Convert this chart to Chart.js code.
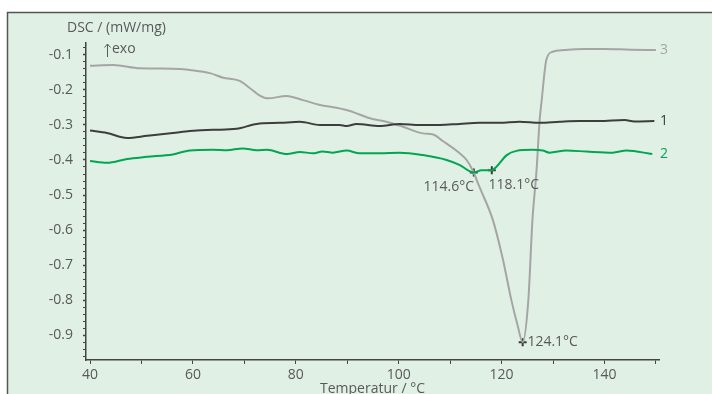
<!DOCTYPE html>
<html>
<head>
<meta charset="utf-8">
<script src="https://cdn.jsdelivr.net/npm/chart.js@4.4.1/dist/chart.umd.min.js"></script>
<style>
  html, body { margin: 0; padding: 0; background: #fff; }
  #wrap { width: 712px; height: 394px; }
</style>
</head>
<body>
<div id="wrap"><canvas id="dsc" width="712" height="394"></canvas></div>
<script>
// curve 1 (dark)
var temp1 = [40, 43.3, 47.2, 51.1, 56.1, 59.4, 63.9, 68.5, 72.4, 76.9, 80.8, 84.7, 88.5, 89.9, 91.8, 96.3, 100.2, 104.1, 108, 111.8, 115.7, 119.6, 123.5, 127.4, 131.3, 135.1, 139, 143.9, 145.8, 149.7];
var dsc1 = [-0.316, -0.323, -0.337, -0.331, -0.323, -0.317, -0.314, -0.311, -0.297, -0.294, -0.291, -0.3, -0.3, -0.303, -0.297, -0.303, -0.297, -0.3, -0.3, -0.297, -0.294, -0.294, -0.291, -0.294, -0.291, -0.289, -0.289, -0.286, -0.29, -0.289];
// curve 2 (green)
var temp2 = [40, 43.3, 47.2, 51.1, 56.1, 59.4, 63.9, 66.6, 69.7, 72.4, 74.4, 78.3, 80.8, 83.3, 85.2, 87.2, 89.9, 92.4, 96.3, 100.2, 104.7, 109.3, 111.8, 114.6, 116.1, 118.1, 119, 121, 122.9, 126, 128, 129.3, 132.6, 136.5, 141.6, 144.3, 149.3];
var dsc2 = [-0.403, -0.408, -0.397, -0.391, -0.384, -0.373, -0.371, -0.372, -0.367, -0.372, -0.371, -0.383, -0.377, -0.381, -0.376, -0.379, -0.373, -0.381, -0.381, -0.379, -0.386, -0.4, -0.414, -0.436, -0.429, -0.429, -0.419, -0.386, -0.374, -0.371, -0.373, -0.379, -0.373, -0.376, -0.379, -0.373, -0.383];
// curve 3 (grey)
var temp3 = [40, 44.5, 49.7, 57.5, 59.4, 63.3, 65.9, 69.1, 71.1, 73, 74.6, 78.2, 81.4, 84.7, 87.9, 90.5, 94.4, 97.6, 100.8, 104.7, 106.7, 108.5, 111.8, 113.2, 114.4, 115.7, 118.3, 120.2, 121.9, 123.1, 124.1, 125.2, 126, 126.8, 127.4, 127.8, 128.7, 129.9, 132.2, 136, 140, 145, 150];
var dsc3 = [-0.131, -0.129, -0.138, -0.14, -0.143, -0.152, -0.165, -0.174, -0.195, -0.216, -0.224, -0.217, -0.229, -0.243, -0.251, -0.26, -0.281, -0.291, -0.305, -0.324, -0.327, -0.345, -0.38, -0.4, -0.43, -0.477, -0.571, -0.68, -0.8, -0.871, -0.92, -0.8, -0.571, -0.429, -0.286, -0.229, -0.114, -0.091, -0.086, -0.083, -0.083, -0.085, -0.086];
// marked peaks
var peakTemps = [114.6, 118.1, 124.1];
var peakValues = [-0.436, -0.429, -0.92];
var peakLabels = ['114.6°C', '118.1°C', '124.1°C'];
var curveNames = ['1', '2', '3'];

var textColor = '#595959';
var font = '"Open Sans", "Noto Sans", sans-serif';

function toPoints(xs, ys) {
    return xs.map(function (x, i) { return { x: x, y: ys[i] }; });
}

var panelPlugin = {
    id: 'panel',
    beforeDraw: function (chart) {
        var ctx = chart.ctx;
        ctx.save();
        ctx.fillStyle = '#fff';
        ctx.fillRect(0, 0, chart.width, chart.height);
        ctx.fillStyle = '#e1f0e5';
        ctx.fillRect(7, 12, chart.width - 7, chart.height - 12);
        ctx.strokeStyle = '#555';
        ctx.lineWidth = 1.5;
        ctx.beginPath();
        ctx.moveTo(7.5, chart.height);
        ctx.lineTo(7.5, 12.5);
        ctx.lineTo(chart.width, 12.5);
        ctx.stroke();
        ctx.restore();
    }
};

var textPlugin = {
    id: 'texts',
    afterDatasetsDraw: function (chart) {
        var ctx = chart.ctx;
        var xs = chart.scales.x, ys = chart.scales.y;
        ctx.save();
        ctx.font = '14px ' + font;
        ctx.textBaseline = 'middle';
        ctx.fillStyle = textColor;
        ctx.textAlign = 'left';
        ctx.fillText('DSC / (mW/mg)', 67, 28);
        ctx.fillText('exo', 112, 49);
        // the little exo arrow
        ctx.strokeStyle = textColor;
        ctx.lineWidth = 1;
        ctx.beginPath();
        ctx.moveTo(107.5, 57);
        ctx.lineTo(107.5, 44);
        ctx.moveTo(104.5, 47.5);
        ctx.lineTo(107.5, 44);
        ctx.lineTo(110.5, 47.5);
        ctx.stroke();
        ctx.textAlign = 'center';
        ctx.fillText('Temperatur / °C', (chart.chartArea.left + chart.chartArea.right) / 2, 389);

        // peak labels
        var offs = [[-25, 14], [22, 15], [30, 0]];
        peakTemps.forEach(function (t, i) {
            var px = xs.getPixelForValue(t), py = ys.getPixelForValue(peakValues[i]);
            ctx.fillText(peakLabels[i], px + offs[i][0], py + offs[i][1]);
        });

        // curve names at the line ends
        ctx.textAlign = 'left';
        [0, 1, 2].forEach(function (i) {
            var meta = chart.getDatasetMeta(i);
            var last = meta.data[meta.data.length - 1];
            ctx.fillStyle = chart.data.datasets[i].borderColor;
            ctx.fillText(curveNames[i], 660, last.y);
        });
        ctx.restore();
    }
};

new Chart(document.getElementById('dsc'), {
    type: 'line',
    data: {
        datasets: [{
            label: '1',
            data: toPoints(temp1, dsc1),
            borderColor: '#3d3d3d',
            borderWidth: 2,
            pointRadius: 0,
            cubicInterpolationMode: 'monotone'
        }, {
            label: '2',
            data: toPoints(temp2, dsc2),
            borderColor: '#00a651',
            borderWidth: 2,
            pointRadius: 0,
            cubicInterpolationMode: 'monotone'
        }, {
            label: '3',
            data: toPoints(temp3, dsc3),
            borderColor: '#a5a5a5',
            borderWidth: 2,
            pointRadius: 0,
            cubicInterpolationMode: 'monotone'
        }, {
            type: 'scatter',
            label: 'peaks',
            data: toPoints(peakTemps, peakValues),
            pointStyle: 'cross',
            pointRadius: 4,
            borderWidth: 2,
            borderColor: '#3a3a3a',
            backgroundColor: '#3a3a3a'
        }]
    },
    options: {
        responsive: false,
        animation: false,
        events: [],
        layout: { padding: { top: 43, right: 53, left: 0, bottom: 0 } },
        plugins: { legend: { display: false }, tooltip: { enabled: false } },
        scales: {
            x: {
                type: 'linear',
                min: 39.22,
                max: 150.6,
                afterFit: function (s) { s.height = 34; },
                border: { color: '#444', width: 1.5 },
                grid: { drawOnChartArea: false, drawTicks: true, tickLength: 4, color: '#444' },
                ticks: {
                    stepSize: 10,
                    includeBounds: false,
                    maxRotation: 0,
                    autoSkip: false,
                    padding: 3,
                    color: textColor,
                    font: { family: font, size: 14 },
                    callback: function (v) { return v % 20 === 0 ? v : ''; }
                }
            },
            y: {
                type: 'linear',
                min: -0.971,
                max: -0.066,
                afterFit: function (s) { s.width = 86; },
                border: { color: '#444', width: 1.5 },
                grid: {
                    drawOnChartArea: false,
                    drawTicks: true,
                    tickLength: 3,
                    color: '#444',
                    tickWidth: function (c) {
                        var v = c.tick ? c.tick.value : 0;
                        return Math.abs(v * 10 - Math.round(v * 10)) < 1e-6 ? 1.5 : 1;
                    }
                },
                ticks: {
                    stepSize: 0.02,
                    includeBounds: false,
                    autoSkip: false,
                    padding: 10,
                    color: textColor,
                    font: { family: font, size: 14 },
                    callback: function (v) {
                        return Math.abs(v * 10 - Math.round(v * 10)) < 1e-6 ? v.toFixed(1) : '';
                    }
                }
            }
        }
    },
    plugins: [panelPlugin, textPlugin]
});
</script>
</body>
</html>
